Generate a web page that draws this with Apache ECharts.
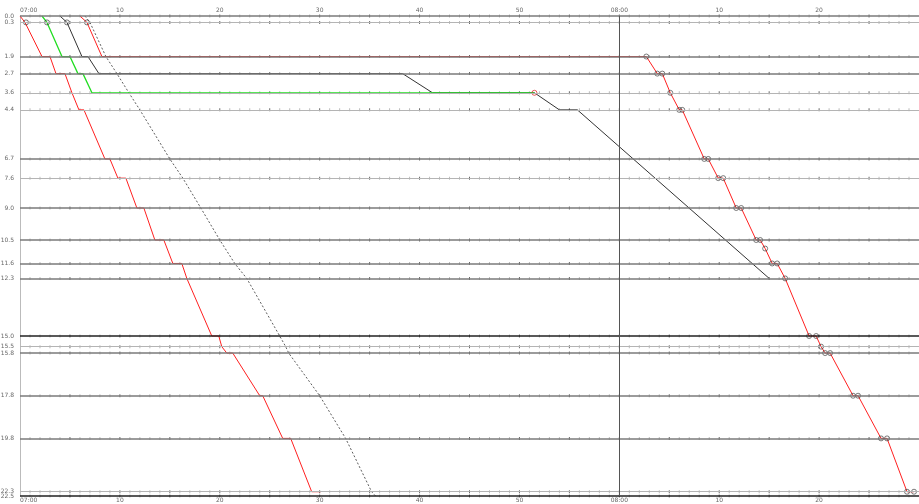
<!DOCTYPE html>
<html>
<head>
<meta charset="utf-8">
<script src="https://cdn.jsdelivr.net/npm/echarts@6/dist/echarts.min.js"></script>
<style>html,body{margin:0;padding:0;background:#fff}#c{width:919px;height:504px}</style>
</head>
<body>
<div id="c"></div>
<script>
// Stations (km) and train paths: [minutes after 07:00, km]
const stations = [0.0, 0.3, 1.9, 2.7, 3.6, 4.4, 6.7, 7.6, 9.0, 10.5, 11.6, 12.3, 15.0, 15.5, 15.8, 17.8, 19.8, 22.3, 22.5];
const lightStations = [0.3, 3.6, 4.4, 7.6, 15.5, 22.3];
const blackStations = [15.0, 22.5];

const redA = [[0,0],[0.5,0.3],[2.2,1.9],[3.0,1.9],[3.6,2.7],[4.5,2.7],[5.2,3.6],[5.9,4.4],[6.4,4.4],[8.5,6.7],[9.0,6.7],[9.8,7.6],[10.6,7.6],[11.7,9.0],[12.4,9.0],[13.5,10.5],[14.4,10.5],[15.3,11.6],[16.2,11.6],[16.7,12.3],[19.2,15.0],[19.9,15.0],[20.2,15.5],[20.7,15.8],[21.3,15.8],[24.0,17.8],[24.3,17.8],[26.3,19.8],[27.1,19.8],[29.2,22.3],[30.1,22.3]];
const green = [[2.2,0],[2.7,0.3],[4.2,1.9],[5.0,1.9],[5.8,2.7],[6.3,2.7],[7.2,3.6],[51.5,3.6]];
const black = [[4.0,0],[4.7,0.3],[6.2,1.9],[6.8,1.9],[7.9,2.7],[38.3,2.7],[41.3,3.6],[51.5,3.6],[54.0,4.4],[55.8,4.4],[75.0,12.3]];
const redB = [[6.0,0],[6.7,0.3],[8.2,1.9],[62.7,1.9],[63.8,2.7],[64.3,2.7],[65.1,3.6],[66.0,4.4],[66.3,4.4],[68.5,6.7],[68.9,6.7],[69.9,7.6],[70.4,7.6],[71.7,9.0],[72.2,9.0],[73.7,10.5],[74.1,10.5],[74.6,10.9],[75.3,11.6],[75.8,11.6],[76.6,12.3],[79.0,15.0],[79.7,15.0],[80.2,15.5],[80.6,15.8],[81.1,15.8],[83.4,17.8],[83.9,17.8],[86.2,19.8],[86.8,19.8],[88.8,22.3],[89.5,22.3]];
const dashed = [[6.5,0],[7.0,0.3],[8.6,1.9],[9.7,2.7],[10.9,3.6],[12.0,4.4],[15.0,6.7],[16.3,7.6],[18.1,9.0],[20.0,10.5],[21.5,11.6],[22.7,12.3],[26.0,15.0],[26.6,15.5],[26.9,15.8],[30.0,17.8],[32.6,19.8],[35.2,22.3],[35.6,22.5]];
const startMarks = [[0.6,0.3],[2.7,0.3],[4.7,0.3],[6.7,0.3]];
const greenEnd = [[51.5,3.6]];
const timeMin = 0, timeMax = 90;
const centerLine = 60;

const pad = n => (n < 10 ? '0' : '') + n;
const fmtTime = v => (v % 60 === 0) ? pad(7 + v / 60) + ':00' : pad(v % 60);

// small tick marks along each station line
const minorTicks = [], majorTicks = [];
stations.forEach(s => {
  for (let m = timeMin + 1; m < timeMax; m++) {
    (m % 5 === 0 ? majorTicks : minorTicks).push([m, s]);
  }
});

const stationLines = stations.map(s => {
  const light = lightStations.includes(s);
  const blk = blackStations.includes(s);
  return {
    yAxis: s,
    lineStyle: {
      color: blk ? '#222' : (light ? '#b4b4b4' : '#7a7a7a'),
      width: light ? 1 : 1.5,
      type: 'solid'
    },
    label: { show: true }
  };
});
stationLines.push({ xAxis: centerLine, lineStyle: { color: '#555', width: 1, type: 'solid' }, label: { show: false } });

const xAxisBase = {
  type: 'value', min: timeMin, max: timeMax, interval: 10,
  axisLine: { show: false }, axisTick: { show: false }, splitLine: { show: false },
  axisLabel: { fontSize: 6, color: '#666', formatter: fmtTime, alignMinLabel: 'left', showMaxLabel: false, fontFamily: 'DejaVu Sans' }
};

const lineSeries = (data, color, width, type) => ({
  type: 'line', data, showSymbol: false, symbol: 'none', z: 3,
  lineStyle: { color, width, type: type || 'solid' }, animation: false, silent: true
});

const option = {
  animation: false,
  backgroundColor: '#fff',
  grid: { left: 20, right: 0, top: 16, bottom: 8 },
  xAxis: [
    Object.assign({}, xAxisBase, { position: 'top', axisLabel: Object.assign({}, xAxisBase.axisLabel, { margin: 3 }) }),
    Object.assign({}, xAxisBase, { position: 'bottom', axisLabel: Object.assign({}, xAxisBase.axisLabel, { margin: 1 }) })
  ],
  yAxis: {
    type: 'value', inverse: true, min: 0, max: 22.5,
    axisLabel: { show: false }, axisTick: { show: false }, splitLine: { show: false },
    axisLine: { show: true, lineStyle: { color: '#bbb', width: 1 } }
  },
  series: [
    {
      type: 'scatter', data: minorTicks, symbol: 'rect', symbolSize: [1, 3], z: 1, silent: true,
      itemStyle: { color: '#aaa' },
      markLine: {
        silent: true, symbol: ['none', 'none'], animation: false,
        label: { position: 'start', distance: 6, fontSize: 6, color: '#666', fontFamily: 'DejaVu Sans', formatter: p => Number(p.value).toFixed(1) },
        data: stationLines
      }
    },
    { type: 'scatter', data: majorTicks, symbol: 'rect', symbolSize: [1, 3], z: 1, silent: true, itemStyle: { color: '#444' } },
    lineSeries(dashed, '#333', 0.8, [2, 2]),
    lineSeries(redA, '#ff2020', 1),
    lineSeries(black, '#333', 1),
    lineSeries(green, '#22dd22', 1.3),
    lineSeries(redB, '#ff2020', 1),
    {
      type: 'scatter', data: redB.slice(3).concat(startMarks), symbol: 'circle', symbolSize: 5, z: 4, silent: true,
      itemStyle: { color: 'rgba(255,255,255,0)', borderColor: '#333', borderWidth: 0.8 }
    },
    {
      type: 'scatter', data: greenEnd, symbol: 'circle', symbolSize: 5, z: 4, silent: true,
      itemStyle: { color: 'rgba(255,255,255,0)', borderColor: '#e03030', borderWidth: 1 }
    }
  ]
};

const chart = echarts.init(document.getElementById('c'), null, { renderer: 'canvas' });
chart.setOption(option);
</script>
</body>
</html>
